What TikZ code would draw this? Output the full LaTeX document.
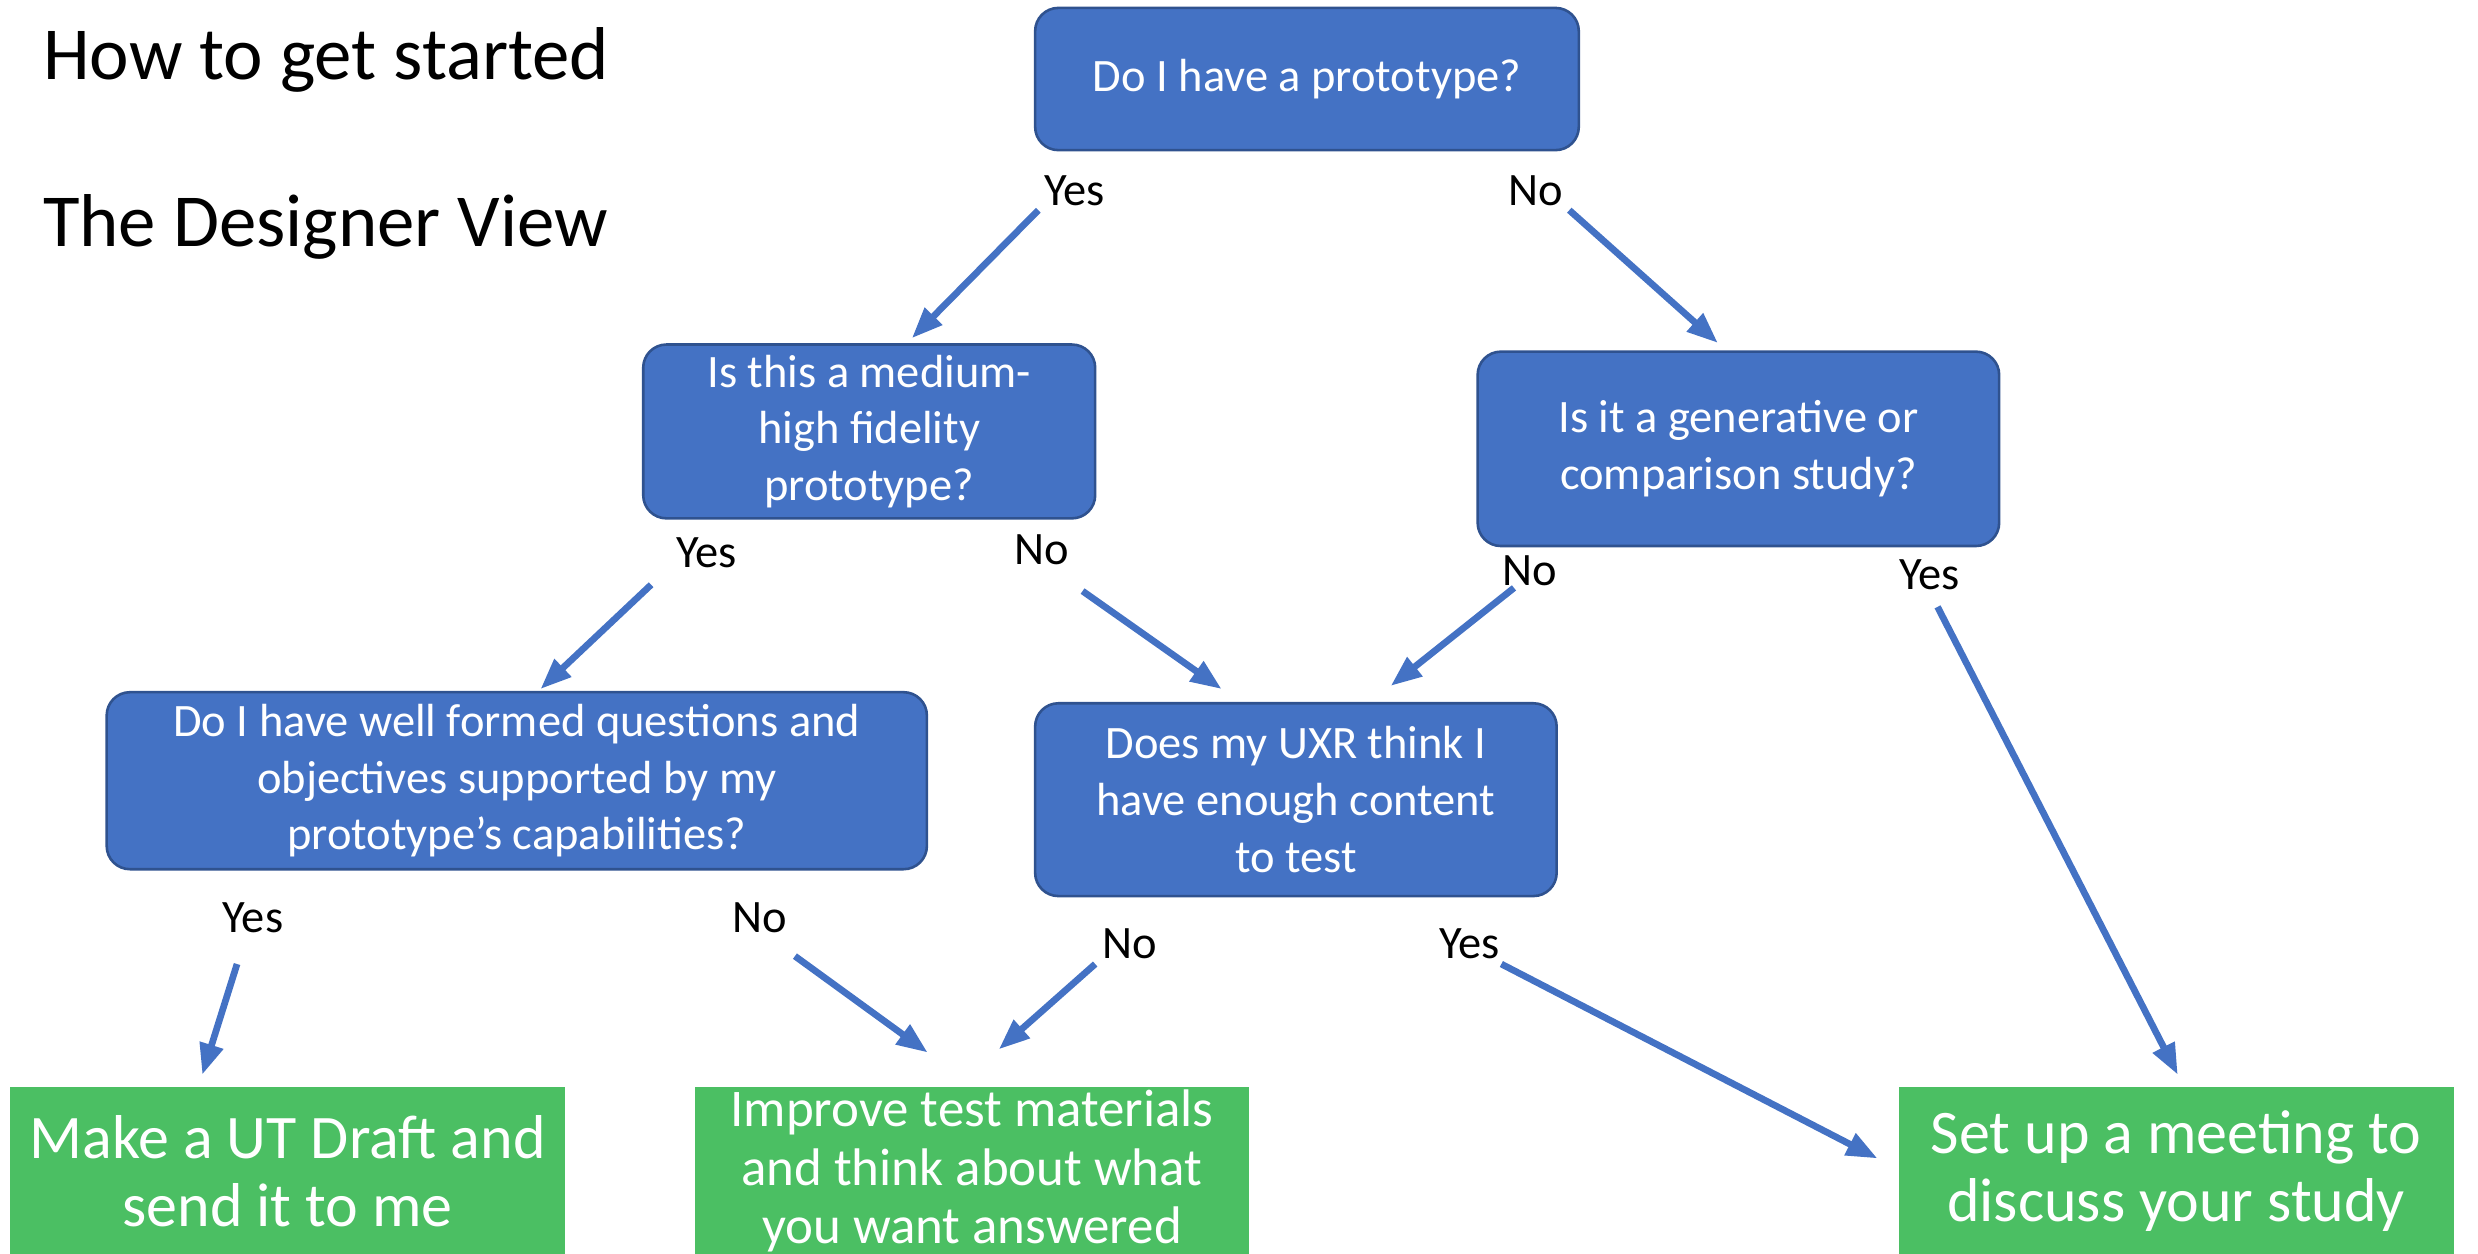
\documentclass[tikz,border=0pt]{standalone}
\usepackage{fontspec}
\setmainfont{Carlito}
\usetikzlibrary{arrows.meta, positioning}
\definecolor{boxblue}{HTML}{4472C4}
\definecolor{boxedge}{HTML}{2F528F}
\definecolor{endgreen}{HTML}{4BBF63}
\def\pxu{0.6122pt}

\begin{document}
\begin{tikzpicture}[x=0.6122pt, y=-0.6122pt,
  >={Triangle[length=12pt, width=9pt]},
  question/.style={draw=boxedge, line width=1pt, fill=boxblue, rounded corners=9pt,
    text=white, align=center, inner sep=0pt, font=\fontsize{18}{22}\selectfont},
  answer/.style={fill=endgreen, text=white, align=center, inner sep=0pt,
    minimum width=351*\pxu, minimum height=106*\pxu, font=\fontsize{24}{26.3}\selectfont},
  choice/.style={text=black, inner sep=0pt, font=\fontsize{18}{22}\selectfont},
  flow/.style={->, boxblue, line width=2.6pt}]

% Page frame
\useasboundingbox (0,0) rectangle (1568,793);

% Titles
\node[anchor=base west, inner sep=0pt, font=\fontsize{29}{35}\selectfont] (title) at (27,50) {How to get started};
\node[anchor=base west, inner sep=0pt, font=\fontsize{29}{35}\selectfont] (subtitle) at (27,156) {The Designer View};

% Questions
\node[question, minimum width=344*\pxu, minimum height=90*\pxu] (proto) at (827,50) {Do I have a prototype?};
\node[question, minimum width=286*\pxu, minimum height=110*\pxu] (fidel) at (550,273) {Is this a medium-\\high fidelity\\prototype?};
\node[question, minimum width=330*\pxu, minimum height=123*\pxu] (gencomp) at (1100,284) {Is it a generative or\\comparison study?};
\node[question, minimum width=519*\pxu, minimum height=112*\pxu] (wellq) at (327,494) {Do I have well formed questions and\\objectives supported by my\\prototype’s capabilities?};
\node[question, minimum width=330*\pxu, minimum height=122*\pxu] (uxr) at (820,506) {Does my UXR think I\\have enough content\\to test};

% Outcomes
\node[answer] (utdraft) at (182,741) {Make a UT Draft and\\send it to me};
\node[answer, font=\fontsize{20.5}{22.6}\selectfont] (improve) at (615,741) {Improve test materials\\and think about what\\you want answered};
\node[answer] (meeting) at (1377,741) {Set up a meeting to\\discuss your study};

% Yes / No labels
\node[choice] (p-yes) at (680,121) {Yes};
\node[choice] (p-no) at (972,121) {No};
\node[choice] (f-yes) at (447,350) {Yes};
\node[choice] (f-no) at (659,348) {No};
\node[choice] (g-no) at (968,361) {No};
\node[choice] (g-yes) at (1221,364) {Yes};
\node[choice] (w-yes) at (160,581) {Yes};
\node[choice] (w-no) at (481,581) {No};
\node[choice] (u-no) at (715,597) {No};
\node[choice] (u-yes) at (930,597) {Yes};

% Arrow ends
\coordinate (p-yes-a) at (657,133);  \coordinate (p-yes-b) at (577,214);
\coordinate (p-no-a) at (993,133);   \coordinate (p-no-b) at (1087,217);
\coordinate (f-yes-a) at (412,370);  \coordinate (f-yes-b) at (342,436);
\coordinate (f-no-a) at (685,374);   \coordinate (f-no-b) at (773,436);
\coordinate (g-no-a) at (958,372);   \coordinate (g-no-b) at (880,434);
\coordinate (g-yes-a) at (1226,384); \coordinate (g-yes-b) at (1378,680);
\coordinate (w-yes-a) at (150,610);  \coordinate (w-yes-b) at (128,680);
\coordinate (w-no-a) at (503,605);   \coordinate (w-no-b) at (587,666);
\coordinate (u-no-a) at (693,610);   \coordinate (u-no-b) at (632,664);
\coordinate (u-yes-a) at (950,610);  \coordinate (u-yes-b) at (1188,733);

% Arrows
\foreach \a in {p-yes, p-no, f-yes, f-no, g-no, g-yes, w-yes, w-no, u-no, u-yes}
  \draw[flow] (\a-a) -- (\a-b);

\end{tikzpicture}
\end{document}
